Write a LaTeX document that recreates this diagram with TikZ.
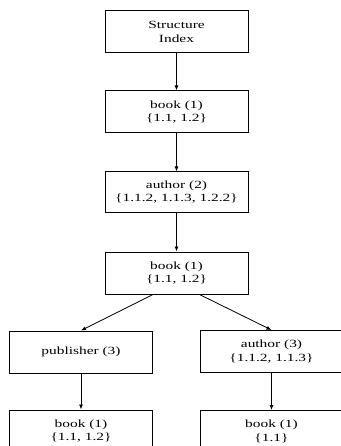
\documentclass[tikz,border=0pt]{standalone}
\usepackage{fontspec}
\setmainfont{Liberation Serif}[FakeStretch=1.4]
\usetikzlibrary{positioning, arrows.meta}

\begin{document}
\begin{tikzpicture}[x=1pt, y=1pt,
		idx/.style={draw, line width=1pt, minimum width=143pt, minimum height=42pt,
			align=center, inner sep=2pt, font=\fontsize{11}{13.5}\selectfont},
		link/.style={-{Latex[length=5pt, width=4pt]}, line width=0.8pt},
		node distance=38pt]
			\useasboundingbox (0,0) rectangle (340,-446);
			
			\node[idx] (root) at (176.5,-32) {Structure\\Index};
			\node[idx, below=37pt of root] (book1) {book (1)\\\{1.1, 1.2\}};
			\node[idx, below=of book1, minimum height=40pt] (author2) {author (2)\\\{1.1.2, 1.1.3, 1.2.2\}};
			\node[idx, below=39pt of author2] (book2) {book (1)\\\{1.1, 1.2\}};
			
			\node[idx] (pub) at (81,-352) {publisher (3)};
			\node[idx] (author3) at (271.5,-351.5) {author (3)\\\{1.1.2, 1.1.3\}};
			\node[idx, below=36pt of pub] (book3) {book (1)\\\{1.1, 1.2\}};
			\node[idx, below=37pt of author3] (book4) {book (1)\\\{1.1\}};
			
			\draw[link] (root) -- (book1);
			\draw[link] (book1) -- (author2);
			\draw[link] (author2) -- (book2);
			\draw[link] (book2.south -| pub.north east) -- (pub.north);
			\draw[link] (book2.south -| author3.north west) -- (author3.north);
			\draw[link] (pub) -- (book3);
			\draw[link] (author3) -- (book4);
		\end{tikzpicture}
\end{document}
